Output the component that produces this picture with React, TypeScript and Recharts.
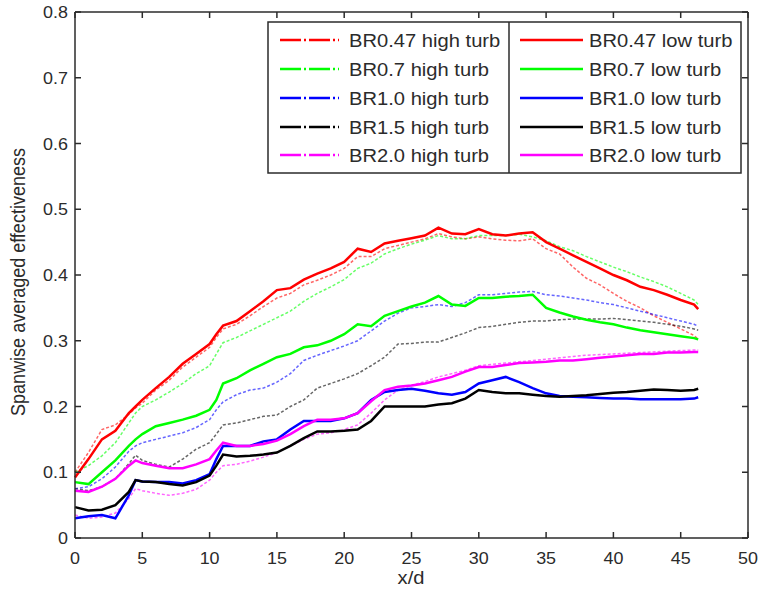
import { LineChart, Line, XAxis, YAxis, ReferenceLine } from "recharts";

const FONT = '"Liberation Sans", Arial, Helvetica, sans-serif';
const INK = "#2b2b2b";
const STRETCH = 1.12;

// plot box edges in page pixels
const LEFT = 75;
const RIGHT = 748;
const TOP = 12;
const BOTTOM = 538;

const xTicks = [0, 5, 10, 15, 20, 25, 30, 35, 40, 45, 50];
const yTicks = [0, 0.1, 0.2, 0.3, 0.4, 0.5, 0.6, 0.7, 0.8];

// streamwise position x/d
const xd = [
  0, 1, 2, 3, 4, 4.5, 5, 6, 7, 8, 9, 10, 10.5, 11, 12, 13, 14, 15, 16, 17, 18, 19, 20, 21, 22, 23, 24, 25,
  26, 27, 28, 29, 30, 31, 32, 33, 34, 35, 36, 37, 38, 39, 40, 41, 42, 43, 44, 45, 46, 46.3,
];

const br047Low = [
  0.092, 0.12, 0.15, 0.163, 0.19, 0.2, 0.21, 0.228, 0.245, 0.265, 0.28, 0.295, 0.31, 0.323, 0.33, 0.345, 0.36,
  0.377, 0.38, 0.393, 0.402, 0.41, 0.42, 0.44, 0.435, 0.448, 0.452, 0.456, 0.46, 0.472, 0.463, 0.462, 0.47,
  0.462, 0.46, 0.463, 0.465, 0.45, 0.44, 0.43, 0.42, 0.41, 0.4, 0.392, 0.382, 0.377, 0.37, 0.362, 0.355, 0.348,
];
const br047High = [
  0.1, 0.13, 0.165, 0.172, 0.188, 0.198, 0.205, 0.225, 0.24, 0.26, 0.275, 0.29, 0.305, 0.318, 0.325, 0.338,
  0.352, 0.365, 0.372, 0.385, 0.392, 0.4, 0.41, 0.428, 0.428, 0.44, 0.445, 0.45, 0.455, 0.463, 0.458, 0.455,
  0.458, 0.455, 0.453, 0.452, 0.455, 0.44, 0.432, 0.412, 0.395, 0.385, 0.372, 0.36, 0.35, 0.338, 0.328, 0.318,
  0.308, 0.302,
];
const br07Low = [
  0.085, 0.082, 0.1, 0.118, 0.14, 0.15, 0.158, 0.17, 0.175, 0.18, 0.186, 0.195, 0.21, 0.235, 0.243, 0.255,
  0.265, 0.275, 0.28, 0.29, 0.293, 0.3, 0.31, 0.325, 0.322, 0.338, 0.345, 0.352, 0.358, 0.368, 0.355, 0.353,
  0.365, 0.365, 0.367, 0.368, 0.37, 0.35, 0.343, 0.337, 0.332, 0.328, 0.325, 0.32, 0.316, 0.313, 0.31, 0.307,
  0.304, 0.302,
];
const br07High = [
  0.1, 0.11, 0.125, 0.145, 0.175, 0.19, 0.2, 0.21, 0.222, 0.235, 0.25, 0.262, 0.28, 0.297, 0.305, 0.315, 0.325,
  0.335, 0.345, 0.36, 0.372, 0.382, 0.393, 0.41, 0.418, 0.432, 0.44, 0.447, 0.453, 0.46, 0.455, 0.455, 0.46,
  0.46, 0.46, 0.462, 0.458, 0.452, 0.443, 0.437, 0.428, 0.42, 0.412, 0.405, 0.397, 0.39, 0.382, 0.372, 0.362,
  0.355,
];
const br10Low = [
  0.03, 0.033, 0.035, 0.03, 0.065, 0.088, 0.086, 0.085, 0.085, 0.083, 0.088, 0.097, 0.12, 0.14, 0.14, 0.14,
  0.147, 0.15, 0.165, 0.178, 0.178, 0.178, 0.182, 0.19, 0.21, 0.222, 0.225, 0.227, 0.224, 0.22, 0.218, 0.222,
  0.235, 0.24, 0.245, 0.237, 0.228, 0.22, 0.216, 0.215, 0.214, 0.213, 0.212, 0.212, 0.211, 0.211, 0.211, 0.211,
  0.212, 0.214,
];
const br10High = [
  0.075, 0.078, 0.09, 0.108, 0.132, 0.14, 0.145, 0.15, 0.155, 0.16, 0.168, 0.18, 0.195, 0.207, 0.218, 0.225,
  0.228, 0.237, 0.25, 0.27, 0.278, 0.285, 0.292, 0.3, 0.315, 0.33, 0.342, 0.35, 0.352, 0.355, 0.352, 0.358,
  0.37, 0.37, 0.372, 0.374, 0.375, 0.37, 0.368, 0.365, 0.362, 0.358, 0.355, 0.35, 0.345, 0.34, 0.335, 0.33,
  0.325, 0.322,
];
const br15Low = [
  0.047, 0.042, 0.043, 0.05, 0.07, 0.088, 0.086, 0.085, 0.082, 0.08, 0.085, 0.095, 0.11, 0.127, 0.124, 0.125,
  0.127, 0.13, 0.14, 0.152, 0.162, 0.162, 0.163, 0.165, 0.178, 0.2, 0.2, 0.2, 0.2, 0.203, 0.205, 0.212, 0.225,
  0.222, 0.22, 0.22, 0.218, 0.216, 0.215, 0.216, 0.217, 0.219, 0.221, 0.222, 0.224, 0.226, 0.225, 0.224, 0.225,
  0.227,
];
const br15High = [
  0.075, 0.072, 0.078, 0.09, 0.113, 0.126, 0.118, 0.112, 0.108, 0.12, 0.135, 0.145, 0.158, 0.172, 0.175, 0.18,
  0.185, 0.187, 0.2, 0.21, 0.228, 0.235, 0.242, 0.25, 0.262, 0.275, 0.295, 0.296, 0.298, 0.298, 0.305, 0.312,
  0.32, 0.322, 0.325, 0.328, 0.33, 0.33, 0.332, 0.333, 0.333, 0.333, 0.334, 0.332, 0.33, 0.328, 0.325, 0.322,
  0.318, 0.316,
];
const br20Low = [
  0.072, 0.07, 0.078, 0.09, 0.11, 0.118, 0.114, 0.11, 0.106, 0.106, 0.112, 0.12, 0.133, 0.145, 0.14, 0.14,
  0.143, 0.148, 0.158, 0.17, 0.18, 0.18, 0.182, 0.19, 0.208, 0.225, 0.23, 0.232, 0.235, 0.24, 0.245, 0.253,
  0.26, 0.26, 0.263, 0.266, 0.267, 0.268, 0.27, 0.27, 0.272, 0.274, 0.276, 0.278, 0.28, 0.28, 0.282, 0.282,
  0.283, 0.283,
];
const br20High = [
  0.035, 0.03, 0.032, 0.038, 0.06, 0.075, 0.072, 0.068, 0.065, 0.068, 0.074, 0.088, 0.1, 0.11, 0.112, 0.117,
  0.123, 0.13, 0.14, 0.15, 0.158, 0.16, 0.165, 0.172, 0.19, 0.21, 0.225, 0.232, 0.238, 0.245, 0.25, 0.255,
  0.262, 0.264, 0.266, 0.268, 0.27, 0.272, 0.274, 0.276, 0.278, 0.279, 0.28, 0.281, 0.282, 0.283, 0.284, 0.285,
  0.286, 0.286,
];

const series = [
  { key: "h047", name: "BR0.47 high turb", color: "#ff0000", values: br047High, high: true },
  { key: "h07", name: "BR0.7 high turb", color: "#00ff00", values: br07High, high: true },
  { key: "h10", name: "BR1.0 high turb", color: "#0000ff", values: br10High, high: true },
  { key: "h15", name: "BR1.5 high turb", color: "#000000", values: br15High, high: true },
  { key: "h20", name: "BR2.0 high turb", color: "#ff00ff", values: br20High, high: true },
  { key: "l047", name: "BR0.47 low turb", color: "#ff0000", values: br047Low, high: false },
  { key: "l07", name: "BR0.7 low turb", color: "#00ff00", values: br07Low, high: false },
  { key: "l10", name: "BR1.0 low turb", color: "#0000ff", values: br10Low, high: false },
  { key: "l15", name: "BR1.5 low turb", color: "#000000", values: br15Low, high: false },
  { key: "l20", name: "BR2.0 low turb", color: "#ff00ff", values: br20Low, high: false },
];

const chartData = xd.map((x, i) => {
  const row: Record<string, number> = { x };
  series.forEach((s) => {
    row[s.key] = s.values[i];
  });
  return row;
});

function Label({ x, y, size, anchor, children }: any) {
  return (
    <text
      transform={`translate(${x},${y}) scale(${STRETCH},1)`}
      textAnchor={anchor}
      fontFamily={FONT}
      fontSize={size}
      fill={INK}
    >
      {children}
    </text>
  );
}

function XTick(props: any) {
  const { x, payload } = props;
  return (
    <g>
      <line x1={x} x2={x} y1={BOTTOM} y2={BOTTOM - 6} stroke={INK} strokeWidth={1.5} />
      <line x1={x} x2={x} y1={TOP} y2={TOP + 6} stroke={INK} strokeWidth={1.5} />
      <Label x={x} y={BOTTOM + 26} size={16} anchor="middle">
        {payload.value}
      </Label>
    </g>
  );
}

function YTick(props: any) {
  const { y, payload } = props;
  return (
    <g>
      <line x1={LEFT} x2={LEFT + 6} y1={y} y2={y} stroke={INK} strokeWidth={1.5} />
      <line x1={RIGHT - 6} x2={RIGHT} y1={y} y2={y} stroke={INK} strokeWidth={1.5} />
      <Label x={LEFT - 7} y={y + 6} size={16} anchor="end">
        {payload.value}
      </Label>
    </g>
  );
}

const HIGH_DASH = "3 2";
const LEGEND_DASH = "21 3 2 3";

function LegendBox() {
  const rows = [40, 69, 98, 127, 155];
  const highs = series.filter((s) => s.high);
  const lows = series.filter((s) => !s.high);
  return (
    <svg
      width={761}
      height={597}
      style={{ position: "absolute", left: 0, top: 0, pointerEvents: "none" }}
    >
      <rect x={268} y={22} width={473} height={151} fill="#fff" stroke={INK} strokeWidth={1.5} />
      <line x1={509} x2={509} y1={22} y2={173} stroke={INK} strokeWidth={1.5} />
      {highs.map((s, i) => (
        <g key={s.key}>
          <line
            x1={280}
            x2={339}
            y1={rows[i]}
            y2={rows[i]}
            stroke={s.color}
            strokeWidth={2.5}
            strokeDasharray={LEGEND_DASH}
          />
          <Label x={349} y={rows[i] + 6.5} size={18} anchor="start">
            {s.name}
          </Label>
        </g>
      ))}
      {lows.map((s, i) => (
        <g key={s.key}>
          <line x1={520} x2={583} y1={rows[i]} y2={rows[i]} stroke={s.color} strokeWidth={2.5} />
          <Label x={589} y={rows[i] + 6.5} size={18} anchor="start">
            {s.name}
          </Label>
        </g>
      ))}
    </svg>
  );
}

export default function App() {
  return (
    <div style={{ position: "absolute", left: 0, top: 0, width: 761, height: 597, background: "#fff" }}>
      <LineChart
        width={761}
        height={597}
        data={chartData}
        margin={{ top: TOP, right: 761 - RIGHT, bottom: 0, left: 0 }}
      >
        <XAxis
          dataKey="x"
          type="number"
          domain={[0, 50]}
          ticks={xTicks}
          interval={0}
          tickLine={false}
          tickSize={0}
          height={597 - BOTTOM}
          axisLine={{ stroke: INK, strokeWidth: 1.5 }}
          tick={<XTick />}
        />
        <YAxis
          type="number"
          domain={[0, 0.8]}
          ticks={yTicks}
          interval={0}
          tickLine={false}
          tickSize={0}
          width={LEFT}
          axisLine={{ stroke: INK, strokeWidth: 1.5 }}
          tick={<YTick />}
        />
        <ReferenceLine y={0.8} stroke={INK} strokeWidth={1.5} />
        <ReferenceLine x={50} stroke={INK} strokeWidth={1.5} />
        {series
          .filter((s) => s.high)
          .map((s) => (
            <Line
              key={s.key}
              dataKey={s.key}
              name={s.name}
              type="linear"
              stroke={s.color}
              strokeWidth={1.5}
              strokeOpacity={0.6}
              strokeDasharray={HIGH_DASH}
              dot={false}
              isAnimationActive={false}
            />
          ))}
        {series
          .filter((s) => !s.high)
          .map((s) => (
            <Line
              key={s.key}
              dataKey={s.key}
              name={s.name}
              type="linear"
              stroke={s.color}
              strokeWidth={2.5}
              dot={false}
              isAnimationActive={false}
            />
          ))}
      </LineChart>
      <LegendBox />
      <svg
        width={761}
        height={597}
        style={{ position: "absolute", left: 0, top: 0, pointerEvents: "none" }}
      >
        <text
          transform="translate(25,282) rotate(-90) scale(1,1.12)"
          textAnchor="middle"
          fontFamily={FONT}
          fontSize={18}
          fill={INK}
        >
          Spanwise averaged effectiveness
        </text>
        <Label x={411} y={584} size={18} anchor="middle">
          x/d
        </Label>
      </svg>
    </div>
  );
}
